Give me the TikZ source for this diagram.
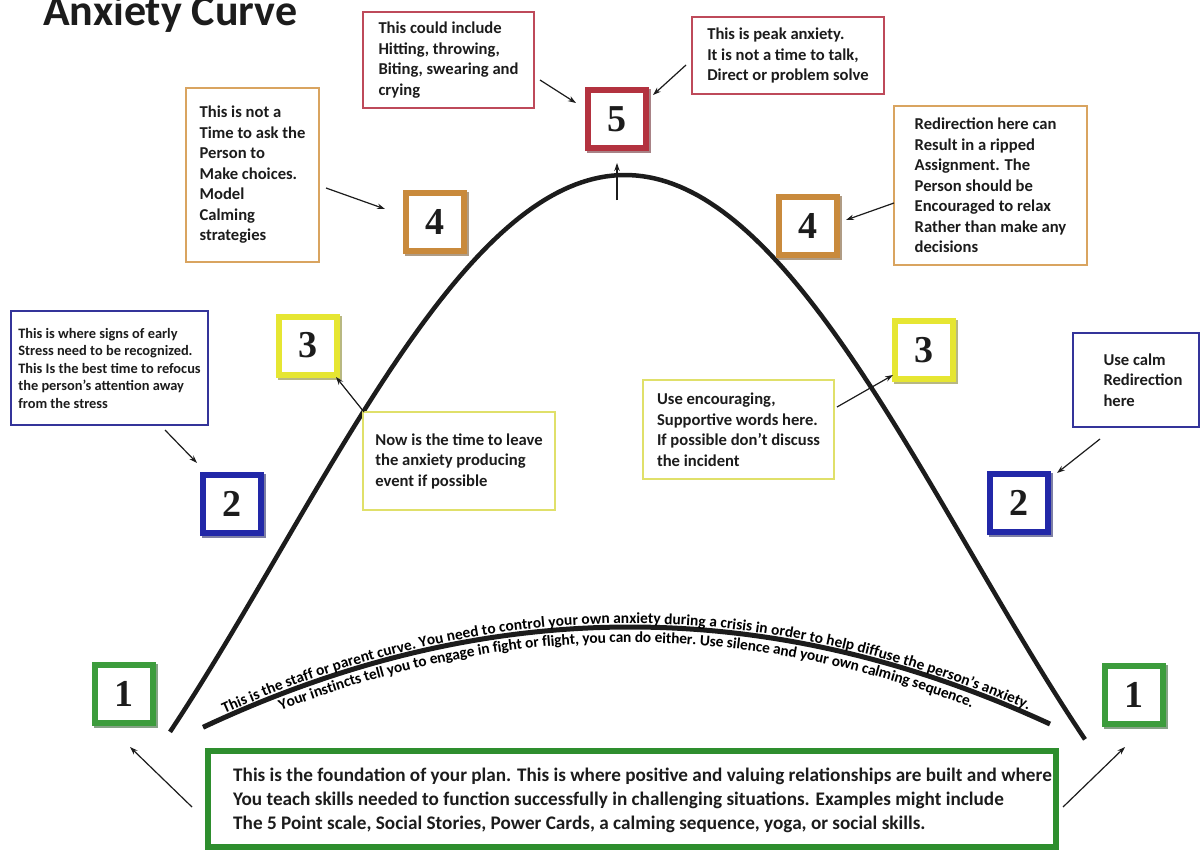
\documentclass[tikz,border=0pt]{standalone}
\usepackage{fontspec}
\setmainfont{Carlito}
\newfontfamily\numfont{Liberation Serif}
\usetikzlibrary{arrows.meta,shadows,decorations.text}
\definecolor{cred}{HTML}{B3323F}
\definecolor{credt}{HTML}{BE4A5A}
\definecolor{corange}{HTML}{C98A3C}
\definecolor{corangt}{HTML}{D9A460}
\definecolor{cyellow}{HTML}{E6E632}
\definecolor{cyellowt}{HTML}{E0E06A}
\definecolor{cblue}{HTML}{2228A8}
\definecolor{cbluet}{HTML}{34349A}
\definecolor{cgreen}{HTML}{3C9C3C}
\definecolor{cgreenb}{HTML}{2E8E2E}
\definecolor{ink}{HTML}{1C1C1C}
\tikzset{
  numbox/.style={draw=#1, line width=6pt, fill=white, minimum size=58pt, inner sep=0pt,
    text=ink, font=\numfont\bfseries\fontsize{38}{38}\selectfont,
    drop shadow={shadow xshift=2pt, shadow yshift=-2pt, draw=#1!55!black, line width=6pt, fill=#1!55!black, opacity=0.55}},
  tbox/.style={draw=#1, line width=1.8pt, fill=white, align=left, inner sep=0pt, text=ink,
    font=\bfseries\fontsize{16.6}{20.5}\selectfont},
  arr/.style={-{Stealth[length=8pt,width=5.5pt]}, line width=1.2pt, ink},
}
\begin{document}
\begin{tikzpicture}[x=1pt,y=-1pt]
\fill[white] (0,0) rectangle (1201,851);
\useasboundingbox (0,0) rectangle (1201,851);

% title
\node[anchor=base west, inner sep=0pt, text=ink, font=\bfseries\fontsize{44}{44}\selectfont] (title) at (43,26) {Anxiety Curve};

% main anxiety curve
\draw[line width=4.5pt, ink, line join=round] plot[domain=-455:460, samples=150] ({625+\x},{175+377*(1-cos(deg(\x/220)))});

% staff / parent curve with text
\draw[line width=5pt, ink, line join=round,
  postaction={decorate, decoration={text along path, raise=3.5pt, text align=center,
    text={|\bfseries\fontsize{15.4}{15.4}\selectfont|This is the staff or parent curve. You need to control your own anxiety during a crisis in order to help diffuse the person’s anxiety.}}},
  postaction={decorate, decoration={text along path, raise=-15.5pt, text align=center,
    text={|\bfseries\fontsize{15.4}{15.4}\selectfont|Your instincts tell you to engage in fight or flight, you can do either. Use silence and your own calming sequence.}}}]
  plot[domain=203:1050, samples=90] (\x,{627+5.5*((\x-630)/100)^2});

% number boxes
\node[numbox=cred]    (n5)  at (616.5,119) {5};
\node[numbox=corange] (n4L) at (434.5,221.5) {4};
\node[numbox=corange] (n4R) at (808,226) {4};
\node[numbox=cyellow] (n3L) at (307.5,345.5) {3};
\node[numbox=cyellow] (n3R) at (924,350) {3};
\node[numbox=cblue]   (n2L) at (231.5,504) {2};
\node[numbox=cblue]   (n2R) at (1018.5,503) {2};
\node[numbox=cgreen]  (n1L) at (123.5,693.5) {1};
\node[numbox=cgreen]  (n1R) at (1133.5,695) {1};

% text boxes
\node[tbox=credt, minimum width=171pt, minimum height=96pt] (redA) at (448.5,60)
  {This could include\\Hitting, throwing,\\Biting, swearing and\\crying};
\node[tbox=credt, minimum width=192pt, minimum height=77pt] (redB) at (788,55.5)
  {This is peak anxiety.\\It is not a time to talk,\\Direct or problem solve};
\node[tbox=corangt, minimum width=133pt, minimum height=174pt] (orL) at (252.5,175)
  {This is not a\\Time to ask the\\Person to\\Make choices.\\Model\\Calming\\strategies};
\node[tbox=corangt, minimum width=193pt, minimum height=159pt] (orR) at (990.5,185.5)
  {Redirection here can\\Result in a ripped\\Assignment. The\\Person should be\\Encouraged to relax\\Rather than make any\\decisions};
\node[tbox=cbluet, minimum width=197pt, minimum height=114pt, font=\bfseries\fontsize{14.4}{17.5}\selectfont] (blL) at (109.5,368)
  {This is where signs of early\\Stress need to be recognized.\\This Is the best time to refocus\\the person’s attention away\\from the stress};
\node[tbox=cbluet, minimum width=126pt, minimum height=94pt] (blR) at (1136,380)
  {\hspace*{14pt}Use calm\\\hspace*{14pt}Redirection\\\hspace*{14pt}here};
\node[tbox=cyellowt, minimum width=192pt, minimum height=98pt] (yeL) at (459,461)
  {Now is the time to leave\\the anxiety producing\\event if possible};
\node[tbox=cyellowt, minimum width=191pt, minimum height=99pt] (yeR) at (738.5,429.5)
  {Use encouraging,\\Supportive words here.\\If possible don’t discuss\\the incident};

% foundation box
\node[draw=cgreenb, line width=6pt, fill=white, minimum width=848pt, minimum height=96pt, inner sep=0pt] (found) at (632,799) {};
\node[anchor=west, align=left, inner sep=0pt, text=ink, font=\bfseries\fontsize{19.2}{24}\selectfont] (foundtext) at (233,800)
  {This is the foundation of your plan. This is where positive and valuing relationships are built and where\\You teach skills needed to function successfully in challenging situations. Examples might include\\The 5 Point scale, Social Stories, Power Cards, a calming sequence, yoga, or social skills.};

% arrows
\draw[arr] ([shift={(91.5,20)}]redA.center) -- ([shift={(-40.5,-16)}]n5.center);
\draw[arr] ([shift={(-102,9.5)}]redB.center) -- ([shift={(36.5,-24)}]n5.center);
\coordinate (peakfoot) at (617,200);
\draw[arr] (peakfoot) -- ([shift={(0.5,44)}]n5.center);
\draw[arr] ([shift={(73.5,13)}]orL.center) -- ([shift={(-49.5,-12.5)}]n4L.center);
\draw[arr] ([shift={(-96.5,17.5)}]orR.center) -- ([shift={(38,-6)}]n4R.center);
\draw[arr] ([shift={(-95,-49)}]yeL.center) -- ([shift={(28.5,31.5)}]n3L.center);
\draw[arr] ([shift={(98.5,-22.5)}]yeR.center) -- ([shift={(-31,25)}]n3R.center);
\draw[arr] ([shift={(55.5,62)}]blL.center) -- ([shift={(-34.5,-41)}]n2L.center);
\draw[arr] ([shift={(-36,59)}]blR.center) -- ([shift={(38.5,-30)}]n2R.center);
\draw[arr] ([shift={(-440,8)}]found.center) -- ([shift={(6.5,53.5)}]n1L.center);
\draw[arr] ([shift={(431,8)}]found.center) -- ([shift={(-8.5,52)}]n1R.center);
\end{tikzpicture}
\end{document}
